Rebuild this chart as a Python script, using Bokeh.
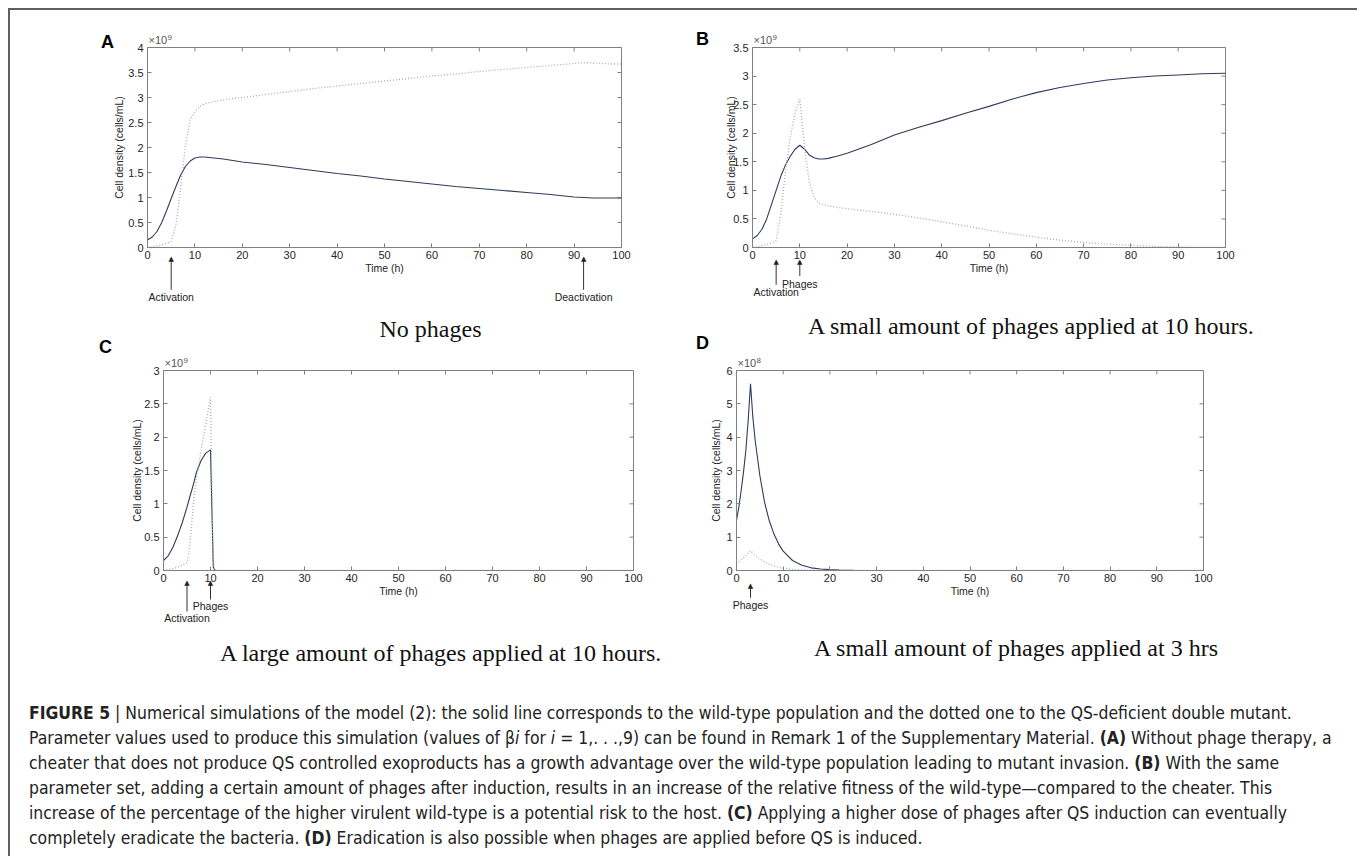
from bokeh.plotting import figure
from bokeh.models import Range1d, FixedTicker, Div, NumeralTickFormatter
from bokeh.core.properties import value
from bokeh.layouts import column, row
from bokeh.embed import file_html
from bokeh.resources import INLINE

# ---------------- data ----------------
time_ticks = [0, 10, 20, 30, 40, 50, 60, 70, 80, 90, 100]
ticks_a = [0, 0.5, 1, 1.5, 2, 2.5, 3, 3.5, 4]
ticks_b = [0, 0.5, 1, 1.5, 2, 2.5, 3, 3.5]
ticks_c = [0, 0.5, 1, 1.5, 2, 2.5, 3]
ticks_d = [0, 1, 2, 3, 4, 5, 6]

# Panel A: no phages (x10^9 cells/mL)
a_time = [0, 1, 2, 3, 4, 5, 6, 7, 8, 9, 10, 11, 12, 14, 16, 18, 20, 25, 30, 35, 40, 45,
          50, 55, 60, 65, 70, 75, 80, 85, 90, 92, 94, 96, 98, 100]
a_wild = [0.15, 0.21, 0.32, 0.5, 0.73, 0.98, 1.22, 1.45, 1.62, 1.73, 1.79, 1.81, 1.81,
          1.79, 1.77, 1.74, 1.71, 1.66, 1.60, 1.54, 1.48, 1.43, 1.37, 1.32, 1.27, 1.22,
          1.18, 1.14, 1.10, 1.06, 1.01, 1.0, 0.99, 0.99, 0.99, 0.99]
a_mutant = [0.0, 0.01, 0.03, 0.05, 0.08, 0.12, 0.45, 1.2, 2.05, 2.55, 2.72, 2.82, 2.87,
            2.92, 2.95, 2.98, 3.0, 3.06, 3.12, 3.18, 3.23, 3.28, 3.33, 3.38, 3.43, 3.47,
            3.52, 3.56, 3.6, 3.64, 3.68, 3.7, 3.69, 3.68, 3.67, 3.67]

# Panel B: small amount of phages at 10 h (x10^9 cells/mL)
b_time = [0, 1, 2, 3, 4, 5, 6, 7, 8, 9, 10, 11, 12, 13, 14, 15, 16, 18, 20, 25, 30, 35,
          40, 45, 50, 55, 60, 65, 70, 75, 80, 85, 90, 95, 100]
b_wild = [0.15, 0.21, 0.32, 0.5, 0.75, 1.0, 1.25, 1.45, 1.6, 1.72, 1.79, 1.72, 1.62, 1.57,
          1.55, 1.55, 1.56, 1.6, 1.65, 1.8, 1.97, 2.1, 2.22, 2.35, 2.47, 2.6, 2.71, 2.8,
          2.87, 2.93, 2.97, 3.0, 3.02, 3.04, 3.05]
b_mutant = [0.0, 0.01, 0.03, 0.05, 0.08, 0.12, 0.6, 1.35, 1.95, 2.35, 2.6, 1.75, 1.15, 0.88,
            0.78, 0.75, 0.73, 0.7, 0.68, 0.63, 0.58, 0.52, 0.45, 0.38, 0.3, 0.24, 0.18,
            0.13, 0.09, 0.06, 0.04, 0.02, 0.01, 0.0, 0.0]

# Panel C: large amount of phages at 10 h (x10^9 cells/mL)
c_time = [0, 1, 2, 3, 4, 5, 5.5, 6, 6.5, 7, 8, 9, 10, 10.3, 10.6, 11, 20, 30, 40, 50, 60,
          70, 80, 90, 100]
c_wild = [0.15, 0.22, 0.35, 0.52, 0.72, 0.95, 1.08, 1.2, 1.33, 1.47, 1.65, 1.76, 1.81, 0.9,
          0.05, 0, 0, 0, 0, 0, 0, 0, 0, 0, 0]
c_mutant = [0.0, 0.01, 0.03, 0.05, 0.08, 0.12, 0.3, 0.7, 1.1, 1.38, 1.8, 2.2, 2.6, 1.2, 0.1,
            0, 0, 0, 0, 0, 0, 0, 0, 0, 0]

# Panel D: small amount of phages at 3 h (x10^8 cells/mL)
d_time = [0, 0.5, 1, 1.5, 2, 2.5, 3, 3.5, 4, 5, 6, 7, 8, 9, 10, 12, 14, 16, 18, 20, 22, 25,
          30, 40, 50, 60, 70, 80, 90, 100]
d_wild = [1.5, 1.9, 2.4, 2.95, 3.6, 4.5, 5.6, 4.6, 3.9, 2.85, 2.05, 1.5, 1.1, 0.8, 0.58,
          0.3, 0.16, 0.08, 0.045, 0.025, 0.012, 0.005, 0, 0, 0, 0, 0, 0, 0, 0]
d_mutant = [0.2, 0.26, 0.32, 0.38, 0.45, 0.52, 0.6, 0.52, 0.46, 0.35, 0.26, 0.19, 0.14, 0.1,
            0.07, 0.035, 0.018, 0.009, 0.004, 0.002, 0.001, 0, 0, 0, 0, 0, 0, 0, 0, 0]

subtitles = ["No phages",
             "A small amount of phages applied at 10 hours.",
             "A large amount of phages applied at 10 hours.",
             "A small amount of phages applied at 3 hrs"]

caption_lines = [
    "<b>FIGURE 5</b> | Numerical simulations of the model (2): the solid line corresponds to the wild-type population and the dotted one to the QS-deficient double mutant.",
    "Parameter values used to produce this simulation (values of &beta;<i>i</i> for <i>i</i> = 1,. . .,9) can be found in Remark 1 of the Supplementary Material. <b>(A)</b> Without phage therapy, a",
    "cheater that does not produce QS controlled exoproducts has a growth advantage over the wild-type population leading to mutant invasion. <b>(B)</b> With the same",
    "parameter set, adding a certain amount of phages after induction, results in an increase of the relative fitness of the wild-type&mdash;compared to the cheater. This",
    "increase of the percentage of the higher virulent wild-type is a potential risk to the host. <b>(C)</b> Applying a higher dose of phages after QS induction can eventually",
    "completely eradicate the bacteria. <b>(D)</b> Eradication is also possible when phages are applied before QS is induced.",
]

# ---------------- styling ----------------
SANS = "Liberation Sans"
SERIF = "Liberation Serif"
AXIS_GRAY = "#808080"
TEXT = "#262626"
WILD_COLOR = "#2f3b5a"
MUT_COLOR = "#ababab"


def put_text(p, x, y, txt, dx, dy, font, size, style="normal", align="center",
             baseline="middle", color="#222222"):
    # drawn at overlay level so that text outside the axes box is not clipped
    p.text(x=[x], y=[y], text=[txt], x_offset=dx, y_offset=dy, text_font=value(font),
           text_font_size=value(size), text_font_style=style, text_align=align,
           text_baseline=baseline, text_color=color, level="overlay")


def panel(width, height, borders, y_max, y_ticks, exponent, ylab_standoff,
          t, wild, mutant, letter, letter_off, subtitle, sub_x, sub_px, arrows,
          mut_color=MUT_COLOR, extra_letter=None):
    l, r, tp, b = borders
    p = figure(width=width, height=height, x_range=Range1d(0, 100), y_range=Range1d(0, y_max),
               output_backend="svg", toolbar_location=None,
               min_border_left=l, min_border_right=r, min_border_top=tp, min_border_bottom=b)
    p.background_fill_color = "white"
    p.border_fill_color = "white"
    p.grid.visible = False
    p.outline_line_color = AXIS_GRAY
    p.outline_line_width = 1
    for ax, ticks in ((p.xaxis[0], time_ticks), (p.yaxis[0], y_ticks)):
        ax.ticker = FixedTicker(ticks=ticks)
        ax.formatter = NumeralTickFormatter(format="0.[0]")
        ax.major_tick_in = 4
        ax.major_tick_out = 0
        ax.minor_tick_in = 0
        ax.minor_tick_out = 0
        ax.major_tick_line_color = AXIS_GRAY
        ax.axis_line_color = AXIS_GRAY
        ax.major_label_text_font = SANS
        ax.major_label_text_font_size = "11px"
        ax.major_label_text_color = TEXT
        ax.axis_label_text_font = SANS
        ax.axis_label_text_font_size = "10.5px"
        ax.axis_label_text_font_style = "normal"
        ax.axis_label_text_color = TEXT
    p.xaxis[0].axis_label = "Time (h)"
    p.yaxis[0].axis_label = "Cell density (cells/mL)"
    p.xaxis[0].major_label_standoff = 3
    p.xaxis[0].axis_label_standoff = 0
    p.yaxis[0].major_label_standoff = 4
    p.yaxis[0].axis_label_standoff = ylab_standoff

    fw = width - l - r
    fh = height - tp - b
    ppx = fw / 100.0
    ppu = fh / y_max
    # mirrored inward ticks on the top and right edges of the box (MATLAB "box on")
    p.segment(x0=time_ticks, y0=[y_max] * len(time_ticks), x1=time_ticks,
              y1=[y_max - 4 / ppu] * len(time_ticks), line_color=AXIS_GRAY, line_width=1)
    p.segment(x0=[100] * len(y_ticks), y0=y_ticks, x1=[100 - 4 / ppx] * len(y_ticks),
              y1=y_ticks, line_color=AXIS_GRAY, line_width=1)

    p.line(t, wild, line_color=WILD_COLOR, line_width=1.1)
    p.line(t, mutant, line_color=mut_color, line_width=1.3, line_dash="1 2")

    # exponent marker  (x10^n)
    put_text(p, 0, y_max, "\u00d710", 1, -2, SANS, "11px", align="left",
             baseline="bottom", color="#555555")
    put_text(p, 0, y_max, exponent, 20, -8, SANS, "8px", align="left",
             baseline="bottom", color="#555555")
    # panel letter
    if letter:
        put_text(p, 0, y_max, letter, letter_off[0], letter_off[1], SANS, "18px",
                 style="bold", color="black")
    # letter of the panel below (placed here so it is not cut by the row edge)
    if extra_letter:
        put_text(p, 0, 0, extra_letter[0], extra_letter[1], extra_letter[2], SANS, "18px",
                 style="bold", color="black")
    # subtitle under the panel
    put_text(p, sub_x, 0, subtitle, 0, sub_px, SERIF, "24px", color="#111111")
    # event arrows below the time axis
    for (ax_x, tip, base, txt, txt_px) in arrows:
        p.segment(x0=[ax_x], y0=[-base / ppu], x1=[ax_x], y1=[-(tip + 3) / ppu],
                  line_color="#333333", line_width=1, level="overlay")
        put_text(p, ax_x, 0, "\u25b2", 0, tip - 1, "DejaVu Sans", "7px",
                 baseline="top", color="#222222")
        put_text(p, ax_x, 0, txt, 0, txt_px, SANS, "10.5px", color="#222222")
    return p


pa = panel(676, 346, (137, 65, 34, 109), 4, ticks_a, "9", 0,
           a_time, a_wild, a_mutant, "A", (-40, -6), subtitles[0], 59.7, 81,
           [(5, 8, 43, "Activation", 49), (92, 8, 43, "Deactivation", 49)],
           extra_letter=("C", -42, 99))
pb = panel(661, 346, (66, 122, 37, 105), 3.5, ticks_b, "9", -7,
           b_time, b_wild, b_mutant, "B", (-50, -9), subtitles[1], 59.0, 78,
           [(5, 11, 38, "Activation", 44), (10, 11, 29, "Phages", 36)],
           extra_letter=("D", -50, 95))
pc = panel(676, 334, (153, 53, 14, 120), 3, ticks_c, "9", -2,
           c_time, c_wild, c_mutant, None, None, subtitles[2], 59.1, 82,
           [(5, 9, 41, "Activation", 47), (10, 9, 29, "Phages", 35)])
pd_ = panel(661, 334, (50, 144, 14, 115), 6, ticks_d, "8", 1,
            d_time, d_wild, d_mutant, None, None, subtitles[3], 60.0, 77,
            [(3, 12, 28, "Phages", 34)], mut_color="#a9b4c4")

cap_html = ('<div style="font-family:\'Liberation Sans Narrow\',\'DejaVu Sans Condensed\',sans-serif;'
            'font-size:17.4px;line-height:25px;color:#222;padding:6px 0 0 14px;white-space:nowrap;">'
            + "<br>".join(caption_lines) + "</div>")
cap = Div(text=cap_html, width=1337, height=156)

layout = column(row(pa, pb), row(pc, pd_), cap,
                styles={"margin": "8px 8px 0px 8px",
                        "border-top": "2px solid #5f5f5f",
                        "border-left": "2px solid #5f5f5f",
                        "border-right": "2px solid #5f5f5f"})

open("out.html", "w").write(file_html(layout, INLINE))
